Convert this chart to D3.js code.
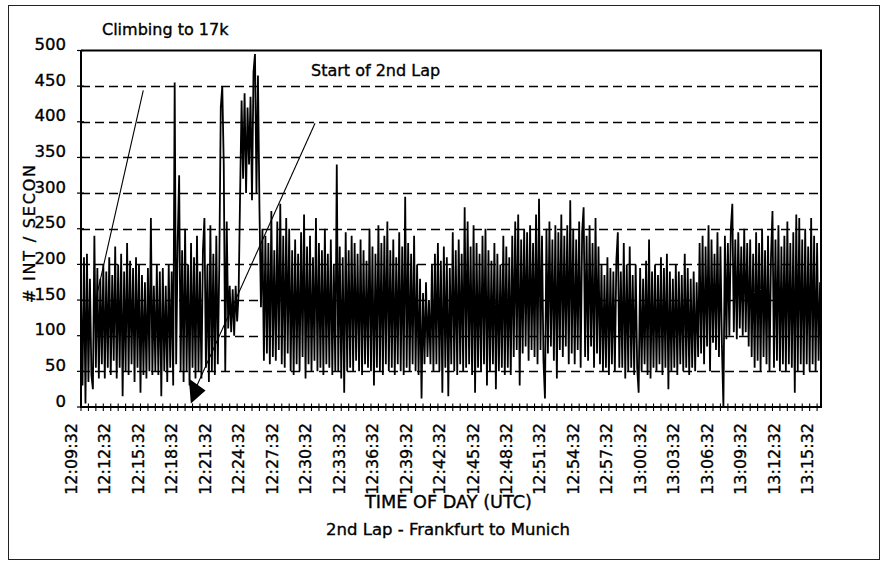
<!DOCTYPE html>
<html><head><meta charset="utf-8">
<script src="https://cdn.jsdelivr.net/npm/d3@7"></script>
<style>
body{margin:0;background:#fff}
svg{display:block}
text{font-family:"DejaVu Sans",sans-serif;fill:#000;stroke:#000;stroke-width:0.35px}
</style>
</head><body>
<svg id="chart" width="884" height="562"></svg>
<script>
// ---------- data ----------
const startTime = "12:09:32";
const endTime = "13:15:53";
const stepSeconds = 8;          // one reading every 8 s
const minorTickSeconds = 40;    // tick mark spacing on time axis
const yTicks = [0, 50, 100, 150, 200, 250, 300, 350, 400, 450, 500];
const yGridValues = [50, 100, 150, 200, 250, 300, 350, 400, 450];
const xTickLabels = ["12:09:32","12:12:32","12:15:32","12:18:32","12:21:32","12:24:32","12:27:32",
  "12:30:32","12:33:32","12:36:32","12:39:32","12:42:32","12:45:32","12:48:32","12:51:32",
  "12:54:32","12:57:32","13:00:32","13:03:32","13:06:32","13:09:32","13:12:32","13:15:32"];
const rates = [
  160,30,210,5,215,35,180,45,25,240,
  55,195,40,180,60,200,40,190,55,210,
  45,185,65,225,40,200,55,215,15,190,
  50,230,45,205,60,195,35,210,55,200,
  20,185,45,175,40,195,50,265,45,
  170,50,
  200,45,190,15,195,50,170,35,200,55,190,
  30,455,60,230,325,50,
  220,35,250,50,200,30,230,55,210,40,
  240,50,190,40,220,265,55,200,35,255,
  50,215,45,240,60,200,
  420,450,340,
  50,260,110,170,105,165,100,170,120,160,
  300,430,320,440,300,420,340,435,290,470,495,300,465,
  280,140,250,
  65,240,75,230,60,275,70,220,65,260,
  80,285,60,240,55,265,75,250,50,220,
  45,235,60,215,50,245,70,270,40,225,
  60,240,50,210,65,265,50,230,55,220,
  45,250,60,215,55,235,45,200,50,
  340,
  50,225,40,210,20,245,50,220,55,240,
  50,230,65,215,50,235,45,220,60,205,
  55,250,50,225,30,215,55,255,50,230,
  45,240,60,260,50,220,55,235,45,210,
  60,245,50,225,45,295,55,230,50,215,
  60,240,50,200,45,
  180,12,160,60,175,70,150,
  60,200,50,215,60,230,50,205,20,225,
  55,210,15,195,60,245,50,220,45,235,
  60,215,50,280,55,260,60,225,45,255,
  20,230,55,215,50,240,60,250,30,220,
  50,205,60,230,25,215,50,200,55,240,
  45,225,55,210,45,
  240,70,260,80,270,30,235,75,250,85,
  245,65,255,80,230,70,270,60,292,80,
  240,65,12,250,75,260,85,235,65,255,
  40,245,80,270,70,240,85,255,60,290,
  75,250,60,235,80,260,55,245,280,70,
  240,65,255,85,230,55,265,75,225,60,
  200,50,185,55,210,45,195,60,190,50,
  205,245,55,190,55,230,40,200,50,225,
  55,185,45,200,55,20,195,50,180,60,
  205,45,235,40,190,55,200,50,185,60,
  210,45,195,55,215,25,190,50,180,55,
  200,45,190,60,185,50,215,55,195,45,
  180,55,190,50,175,70,
  230,75,240,60,225,85,255,50,235,90,
  215,80,245,70,225,85,0,240,95,230,
  100,250,285,105,235,95,245,110,225,100,
  250,105,230,
  85,235,70,215,55,245,65,230,50,250,
  70,220,60,240,50,210,275,55,235,65,
  255,50,225,60,240,50,260,60,230,55,
  245,20,270,50,265,60,235,45,250,60,
  225,50,265,60,240,50,230,65,175
];
const chartTitle = "2nd Lap - Frankfurt to Munich";
const xTitle = "TIME OF DAY (UTC)";
const yTitle = "# INT / SECON";
const noteClimb = "Climbing to 17k";
const noteLap = "Start of 2nd Lap";

// ---------- layout ----------
const svg = d3.select("#chart");
const plot = {left: 81, right: 821, top: 50.5, bottom: 407};
const parse = d3.timeParse("%H:%M:%S");
const t0 = parse(startTime), t1 = parse(endTime);
const x = d3.scaleTime().domain([t0, t1]).range([plot.left, plot.right]);
const y = d3.scaleLinear().domain([0, 500]).range([plot.bottom, plot.top]);
const sec = s => new Date(t0.getTime() + s * 1000);

// outer frame
svg.append("rect").attr("x", 8.5).attr("y", 5.5).attr("width", 871).attr("height", 554)
  .attr("fill", "none").attr("stroke", "#222").attr("stroke-width", 1);

// dashed gridlines
svg.append("g").selectAll("line").data(yGridValues).join("line")
  .attr("x1", plot.left).attr("x2", plot.right)
  .attr("y1", d => Math.round(y(d)) + 0.5).attr("y2", d => Math.round(y(d)) + 0.5)
  .attr("stroke", "#000").attr("stroke-width", 1.3).attr("stroke-dasharray", "9,5");

// annotation leader lines (drawn under data)
svg.append("line")
  .attr("x1", x(sec(335))).attr("y1", y(444)).attr("x2", x(sec(88))).attr("y2", y(160))
  .attr("stroke", "#000").attr("stroke-width", 1.1);
svg.append("line")
  .attr("x1", x(sec(1259))).attr("y1", y(398)).attr("x2", x(sec(610))).attr("y2", y(22))
  .attr("stroke", "#000").attr("stroke-width", 1.1);

// data line
const line = d3.line().x((d, i) => x(sec(i * stepSeconds))).y(d => y(d));
svg.append("path").datum(rates).attr("d", line)
  .attr("fill", "none").attr("stroke", "#000").attr("stroke-width", 1.8)
  .attr("stroke-linejoin", "bevel");

// arrow head
const ah = [[x(sec(580)), y(40)], [x(sec(591)), y(5)], [x(sec(670)), y(23)]];
svg.append("path").attr("d", "M" + ah.map(p => p.join(",")).join("L") + "Z").attr("fill", "#000");

// plot border (top / right) and axes
svg.append("path")
  .attr("d", `M${plot.left},${plot.top}H${plot.right}V${plot.bottom}`)
  .attr("fill", "none").attr("stroke", "#000").attr("stroke-width", 2);
svg.append("line").attr("x1", plot.left).attr("x2", plot.left).attr("y1", plot.top).attr("y2", plot.bottom + 1)
  .attr("stroke", "#000").attr("stroke-width", 2);
svg.append("line").attr("x1", plot.left).attr("x2", plot.right + 1).attr("y1", plot.bottom).attr("y2", plot.bottom)
  .attr("stroke", "#000").attr("stroke-width", 2.2);

// y ticks + labels
const yg = svg.append("g");
yg.selectAll("line").data(yTicks).join("line")
  .attr("x1", plot.left - 4).attr("x2", plot.left + 3)
  .attr("y1", d => y(d)).attr("y2", d => y(d)).attr("stroke", "#000").attr("stroke-width", 1.2);
yg.selectAll("text").data(yTicks).join("text")
  .attr("x", 66).attr("y", d => y(d) - 0.5).attr("text-anchor", "end")
  .attr("font-size", 16.5).text(d => d);

// x minor ticks
const nMinor = Math.floor((t1 - t0) / 1000 / minorTickSeconds);
svg.append("g").selectAll("line").data(d3.range(0, nMinor + 1)).join("line")
  .attr("x1", d => x(sec(d * minorTickSeconds))).attr("x2", d => x(sec(d * minorTickSeconds)))
  .attr("y1", plot.bottom - 3.5).attr("y2", plot.bottom + 4).attr("stroke", "#000").attr("stroke-width", 1.1);

// x labels
svg.append("g").selectAll("text").data(xTickLabels).join("text")
  .attr("transform", d => `translate(${x(parse(d)) - 4},423) rotate(-90)`)
  .attr("text-anchor", "end").attr("font-size", 16).text(d => d);

// titles
svg.append("text").attr("x", 448.5).attr("y", 508).attr("text-anchor", "middle")
  .attr("font-size", 17).attr("textLength", 167).attr("lengthAdjust", "spacingAndGlyphs").text(xTitle);
svg.append("text").attr("x", 448).attr("y", 535).attr("text-anchor", "middle")
  .attr("font-size", 16.5).text(chartTitle);
svg.append("text").attr("transform", "translate(35,234) rotate(-90)").attr("text-anchor", "middle")
  .attr("font-size", 16).attr("textLength", 138).attr("lengthAdjust", "spacing").text(yTitle);

// annotation labels
svg.append("text").attr("x", 102).attr("y", 35).attr("font-size", 16).text(noteClimb);
svg.append("text").attr("x", 311).attr("y", 76).attr("font-size", 16).text(noteLap);
</script>
</body></html>
